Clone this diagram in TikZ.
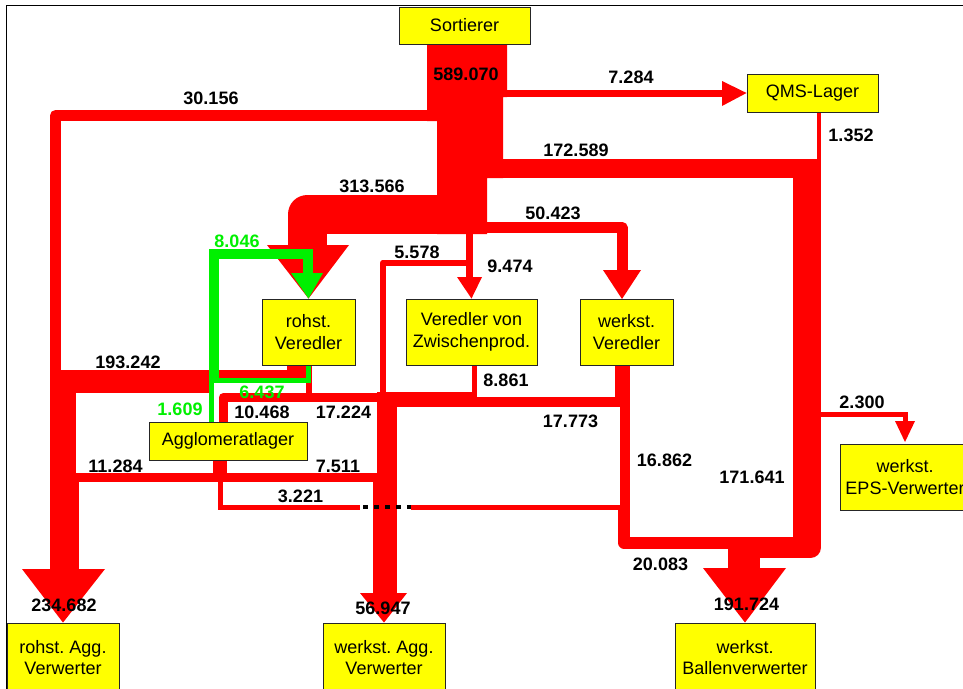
\documentclass[tikz,border=0pt]{standalone}
\usepackage{fontspec}
\setmainfont{Liberation Sans}
\frenchspacing
\definecolor{flowred}{RGB}{255,0,0}
\definecolor{boxyellow}{RGB}{255,255,0}
\definecolor{loopgreen}{RGB}{0,240,0}
\pgfdeclarelayer{paper}
\pgfdeclarelayer{flows}
\pgfsetlayers{paper,flows,main}
\begin{document}
\begin{tikzpicture}[x=1pt,y=-1pt,
  box/.style={draw=black!85,line width=0.9pt,fill=boxyellow,inner sep=0pt,align=center,
              font=\fontsize{18}{21.5}\selectfont},
  lbl/.style={font=\fontsize{18}{21.5}\selectfont\bfseries,inner sep=0pt},
  glbl/.style={lbl,text=loopgreen},
  band/.style={draw=flowred,line cap=butt,line join=round},
  sharpband/.style={draw=flowred,line cap=butt,line join=miter},
  gband/.style={draw=loopgreen,line cap=butt,line join=miter},
  head/.style={fill=flowred},
  ghead/.style={fill=loopgreen},
]
\useasboundingbox (0,0) rectangle (963,688);
\clip (0,0) rectangle (963,688);

% ---------- stations ----------
\path
  (464.5,25.5) node[box,minimum width=131pt,minimum height=37pt] (sort) {Sortierer}
  (812.5,93)   node[box,minimum width=131pt,minimum height=38pt] (qms) {QMS-Lager}
  (308.5,332)  node[box,minimum width=93pt,minimum height=66pt]  (rv) {rohst.\\Veredler}
  (471.5,332)  node[box,minimum width=131pt,minimum height=66pt] (vz) {Veredler von\\Zwischenprod.}
  (626.5,332)  node[box,minimum width=93pt,minimum height=66pt]  (wv) {werkst.\\Veredler}
  (228,441)    node[box,minimum width=158pt,minimum height=38pt] (agg) {Agglomeratlager}
  (905,477)    node[box,minimum width=130pt,minimum height=66pt] (eps) {werkst.\\EPS-Verwerter}
  (63,657.5)   node[box,minimum width=112pt,minimum height=69pt] (rav) {rohst. Agg.\\Verwerter}
  (384,657.5)  node[box,minimum width=122pt,minimum height=69pt] (wav) {werkst. Agg.\\Verwerter}
  (745,657.5)  node[box,minimum width=140pt,minimum height=69pt] (bal) {werkst.\\Ballenverwerter};

\begin{pgfonlayer}{paper}
\fill[white] (0,0) rectangle (963,688);
\draw[line width=1pt] (6.5,700) -- (6.5,5.5) -- (970,5.5);
\end{pgfonlayer}

\begin{pgfonlayer}{flows}
% main trunk below the sorter
\fill[flowred] (427,44) -- (507,44) -- (507,97) -- (503,97) -- (503,178) -- (487,178)
  -- (487,234) -- (437,234) -- (437,121) -- (427,121) -- cycle;

% 30.156 to the left, down to rohst. Agg. Verwerter
\draw[band,line width=11pt] (432,115.5) -- (55.5,115.5) -- (55.5,385);
\draw[sharpband,line width=26pt] (63,375) -- (63,476);
\draw[sharpband,line width=29pt] (64.5,473) -- (64.5,570);
\fill[head] (22,569) -- (105,569) -- (rav.north) -- cycle;

% 193.242 from rohst. Veredler
\fill[flowred] (287,364) rectangle (306,383);
\fill[flowred] (61,370) rectangle (306,383);
\fill[flowred] (50,370) rectangle (209,393);
\fill[flowred] (306,364) rectangle (312,395);

% 10.468 from Agglomeratlager
\draw[band,line width=9pt] (223,423) -- (223,397.5) -- (386,397.5);

% 9.474 and 5.578
\draw[sharpband,line width=7pt] (469,232) -- (469,278);
\fill[head] (457,277) -- (482,277) -- (vz.north) -- cycle;
\draw[band,line width=6pt] (469,262.5) -- (383,262.5) -- (383,400);

% 50.423 to werkst. Veredler
\draw[band,line width=11pt] (485,227.5) -- (622,227.5) -- (622,271);
\fill[head] (603,270) -- (641,270) -- (622,299) -- cycle;

% 313.566 to rohst. Veredler
\draw[band,line width=39pt] (440,214.5) -- (307,214.5) -- (307,246);
\fill[head] (267,245) -- (349,245) -- (rv.north) -- cycle;

% 7.284 to QMS-Lager
\draw[sharpband,line width=7pt] (505,93.5) -- (723,93.5);
\fill[head] (722,81) -- (722,106) -- (qms.west) -- cycle;

% 172.589 and 1.352
\draw[sharpband,line width=19pt] (495,168.5) -- (807,168.5);
\draw[sharpband,line width=4pt] (819,112) -- (819,165);
\draw[sharpband,line width=28pt] (807,159) -- (807,541);
\draw[band,line width=21pt] (744,547.5) -- (810.5,547.5) -- (810.5,530);

% 2.300 to werkst. EPS-Verwerter
\draw[sharpband,line width=5pt] (819,414.5) -- (905,414.5) -- (905,422);
\fill[head] (895,421) -- (915,421) -- (905,442) -- cycle;

% outflow of werkst. Veredler
\draw[sharpband,line width=15pt] (622.5,364) -- (622.5,407);
\draw[sharpband,line width=10pt] (625,400) -- (625,510);
\draw[band,line width=12pt] (624,505) -- (624,542.5) -- (745,542.5);

% 17.773 and 8.861 to werkst. Agg. Verwerter
\draw[sharpband,line width=10pt] (625,402) -- (385,402);
\draw[sharpband,line width=5pt] (474.5,364) -- (474.5,394.5) -- (385,394.5);
\draw[sharpband,line width=20pt] (387,392) -- (387,476);
\draw[sharpband,line width=24pt] (385,473) -- (385,594);
\fill[head] (360,593) -- (407,593) -- (wav.north) -- cycle;

% outflows of Agglomeratlager
\draw[sharpband,line width=14pt] (220,460) -- (220,478);
\draw[sharpband,line width=9pt] (64,477) -- (386,477);
\draw[sharpband,line width=5pt] (220.5,478) -- (220.5,507) -- (360,507);
\draw[sharpband,line width=5pt] (411,507) -- (625,507);
\draw[black,line width=4pt,dash pattern=on 5pt off 6pt] (363,507) -- (411,507);

% 191.724 into werkst. Ballenverwerter
\fill[flowred] (728,537) rectangle (760,569);
\fill[head] (703,568) -- (786,568) -- (bal.north) -- cycle;

% green loop between Agglomeratlager and rohst. Veredler
\draw[gband,line width=10pt] (214,383) -- (214,254) -- (307.5,254) -- (307.5,276);
\fill[ghead] (291,273) -- (323,273) -- (rv.north) -- cycle;
\draw[gband,line width=5pt] (308,365) -- (308,380.5) -- (211.5,380.5) -- (211.5,423);
\end{pgfonlayer}

% ---------- flow values ----------
\node[lbl] (v1) at (466,74.5) {589.070};
\node[lbl] (v2) at (211,98) {30.156};
\node[lbl] (v3) at (631,77.5) {7.284};
\node[lbl] (v4) at (851,135.5) {1.352};
\node[lbl] (v5) at (576,150.5) {172.589};
\node[lbl] (v6) at (372,186.5) {313.566};
\node[lbl] (v7) at (553,213.5) {50.423};
\node[glbl] (v8) at (237,241) {8.046};
\node[lbl] (v9) at (417,252) {5.578};
\node[lbl] (v10) at (510,266) {9.474};
\node[lbl] (v11) at (128,362) {193.242};
\node[lbl] (v12) at (506,380.5) {8.861};
\node[glbl] (v13) at (262,392.5) {6.437};
\node[glbl] (v14) at (180,409) {1.609};
\node[lbl] (v15) at (262,412) {10.468};
\node[lbl] (v16) at (343.5,412) {17.224};
\node[lbl] (v17) at (570.5,421) {17.773};
\node[lbl] (v18) at (862,402.5) {2.300};
\node[lbl] (v19) at (115.5,466) {11.284};
\node[lbl] (v20) at (338,466) {7.511};
\node[lbl] (v21) at (664.5,460) {16.862};
\node[lbl] (v22) at (752,477) {171.641};
\node[lbl] (v23) at (300.5,496.5) {3.221};
\node[lbl] (v24) at (660.5,564) {20.083};
\node[lbl] (v25) at (64,605.5) {234.682};
\node[lbl] (v26) at (383,608) {56.947};
\node[lbl] (v27) at (746.5,604.5) {191.724};
\end{tikzpicture}
\end{document}
